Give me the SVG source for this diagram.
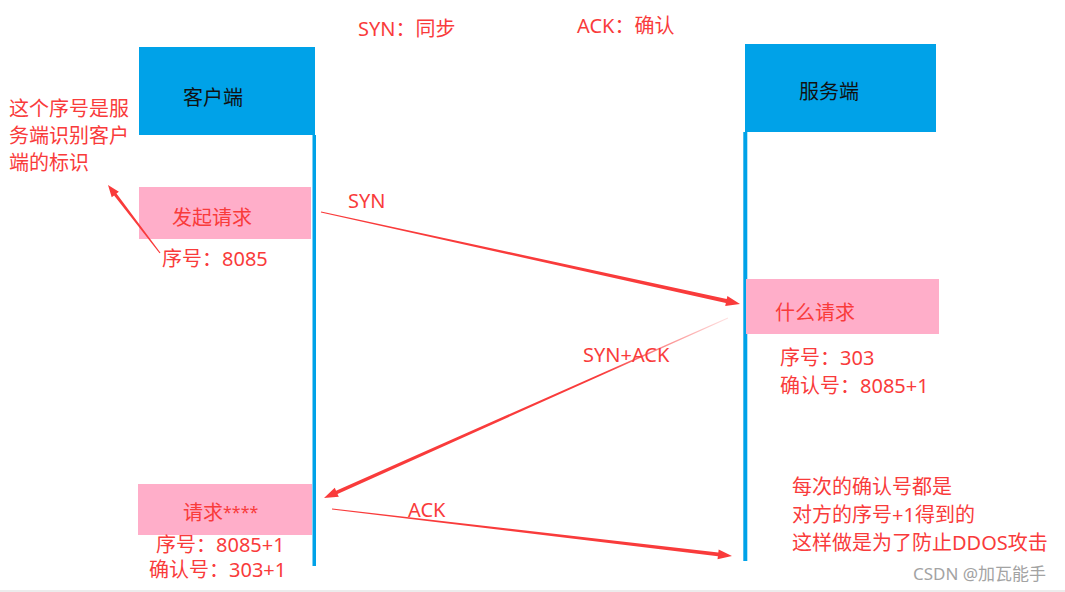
<svg xmlns="http://www.w3.org/2000/svg" width="1065" height="592" viewBox="0 0 1065 592">
<style>
  text { font-family: "Noto Sans", "Noto Sans CJK SC", sans-serif; font-size: 20px; }
  .red { fill: #f93b3b; }
  .blk { fill: #111111; }
  .head { fill: #00a2e8; }
  .life { fill: #00a2e8; }
  .pink { fill: #ffaec9; }
  .arrow { fill: #f93b3b; }
  .wm { fill: #a3a3a3; font-size: 17px; }
</style>
<defs>
  <linearGradient id="fade" gradientUnits="userSpaceOnUse" x1="728" y1="318" x2="600" y2="375">
    <stop offset="0" stop-color="#f93b3b" stop-opacity="0.15"/>
    <stop offset="1" stop-color="#f93b3b" stop-opacity="1"/>
  </linearGradient>
</defs>
<rect x="0" y="0" width="1065" height="592" fill="#ffffff"/>
<rect x="0" y="590" width="1065" height="2" fill="#ececec"/>

<g id="legend">
  <text class="red" x="358" y="36">SYN：同步</text>
  <text class="red" x="577" y="33">ACK：确认</text>
</g>

<g id="client">
  <rect class="head" x="139" y="47" width="176" height="88"/>
  <text class="blk" x="183" y="105">客户端</text>
  <rect class="life" x="312.5" y="135" width="3.5" height="431"/>
</g>

<g id="server">
  <rect class="head" x="745" y="44" width="191" height="88"/>
  <text class="blk" x="799" y="99">服务端</text>
  <rect class="life" x="743.3" y="132" width="4" height="429"/>
</g>

<g id="note-client-seq">
  <text class="red" x="9" y="116">这个序号是服</text>
  <text class="red" x="9" y="143">务端识别客户</text>
  <text class="red" x="9" y="170">端的标识</text>
</g>

<g id="req1">
  <rect class="pink" x="139" y="187" width="172" height="52"/>
  <text class="red" x="172" y="225">发起请求</text>
  <text class="red" x="162" y="266">序号：8085</text>
</g>

<g id="resp1">
  <rect class="pink" x="746" y="279" width="193" height="55"/>
  <text class="red" x="775" y="320">什么请求</text>
  <text class="red" x="780" y="365">序号：303</text>
  <text class="red" x="780" y="393">确认号：8085+1</text>
</g>

<g id="req2">
  <rect class="pink" x="138" y="484" width="174" height="51"/>
  <text class="red" x="183" y="520">请求<tspan font-size="16" dy="-2">****</tspan></text>
  <text class="red" x="156" y="552">序号：8085+1</text>
  <text class="red" x="149" y="577">确认号：303+1</text>
</g>

<g id="note-ack">
  <text class="red" x="792" y="494">每次的确认号都是</text>
  <text class="red" x="792" y="522">对方的序号+1得到的</text>
  <text class="red" x="792" y="550">这样做是为了防止DDOS攻击</text>
</g>

<g id="connectors">
  <polygon class="arrow" points="160.48,252.64 116.48,193.62 118.87,191.80 108,185 111.72,197.26 114.10,195.44 159.52,253.36"/>
  <polygon class="arrow" points="321.13,211.41 726.73,299.05 727.4,296.1 740,304 725.2,305.9 725.87,302.95 320.87,212.59"/>
  <text class="red" x="348" y="208">SYN</text>
  <polygon fill="url(#fade)" points="727.80,317.54 336.06,490.66 334.75,487.73 324,498 338.83,496.87 337.52,493.94 728.20,318.46"/>
  <text class="red" x="583" y="362">SYN+ACK</text>
  <polygon class="arrow" points="332.07,508.40 718.31,552.58 718.68,549.40 732,556 717.52,559.34 717.89,556.16 331.93,509.60"/>
  <text class="red" x="408" y="517">ACK</text>
</g>

<g id="watermark">
  <text class="wm" x="913" y="580">CSDN @加瓦能手</text>
</g>
</svg>
